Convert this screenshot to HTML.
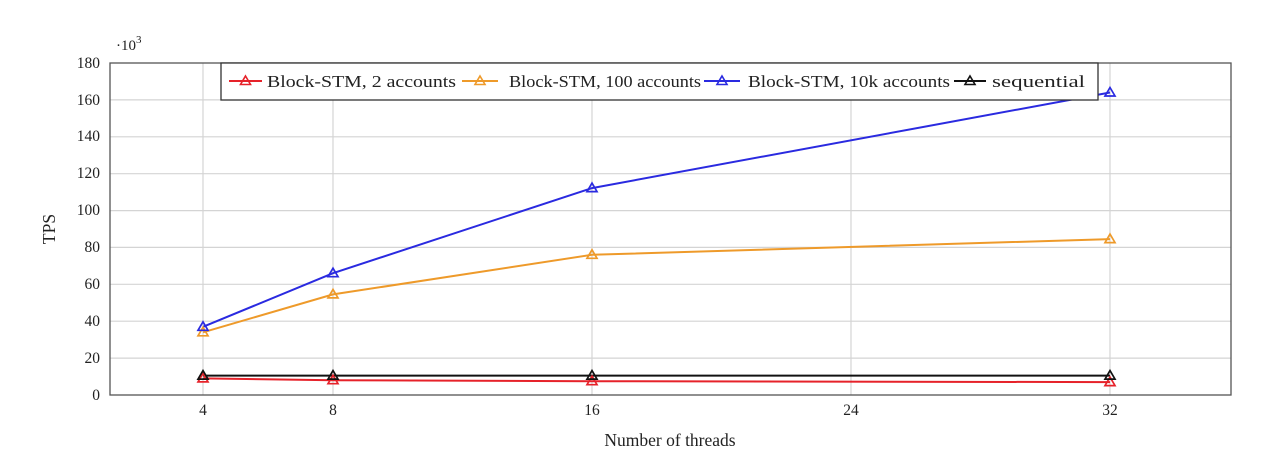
<!DOCTYPE html>
<html><head><style>body{margin:0;background:#fff}svg{display:block}text{font-family:"Liberation Serif",serif;fill:#222}</style></head>
<body>
<svg width="1280" height="470" xmlns="http://www.w3.org/2000/svg">
<defs><clipPath id="c"><rect x="110" y="63" width="1121" height="332"/></clipPath></defs>
<g stroke="#d4d4d4" stroke-width="1.2">
<line x1="203" y1="63" x2="203" y2="395"/><line x1="333" y1="63" x2="333" y2="395"/><line x1="592" y1="63" x2="592" y2="395"/><line x1="851" y1="63" x2="851" y2="395"/><line x1="1110" y1="63" x2="1110" y2="395"/>
<line x1="110" y1="358.1" x2="1231" y2="358.1"/><line x1="110" y1="321.2" x2="1231" y2="321.2"/><line x1="110" y1="284.3" x2="1231" y2="284.3"/><line x1="110" y1="247.4" x2="1231" y2="247.4"/><line x1="110" y1="210.6" x2="1231" y2="210.6"/><line x1="110" y1="173.7" x2="1231" y2="173.7"/><line x1="110" y1="136.8" x2="1231" y2="136.8"/><line x1="110" y1="99.9" x2="1231" y2="99.9"/>
</g>
<g font-size="15.5" text-anchor="end">
<text x="100" y="400">0</text><text x="100" y="363">20</text><text x="100" y="326">40</text><text x="100" y="289">60</text><text x="100" y="252">80</text><text x="100" y="215">100</text><text x="100" y="178">120</text><text x="100" y="141">140</text><text x="100" y="105">160</text><text x="100" y="68">180</text>
</g>
<text x="116" y="50" font-size="15">·10<tspan dy="-7" font-size="11">3</tspan></text>
<g font-size="15.5" text-anchor="middle">
<text x="203" y="415">4</text><text x="333" y="415">8</text><text x="592" y="415">16</text><text x="851" y="415">24</text><text x="1110" y="415">32</text>
</g>
<text x="670" y="446" font-size="17.5" text-anchor="middle">Number of threads</text>
<text x="55" y="229" font-size="17.5" text-anchor="middle" transform="rotate(-90 55 229)">TPS</text>
<g clip-path="url(#c)" fill="none" stroke-width="2">
<polyline stroke="#e6222a" points="203,378.4 333,380.2 592,381.2 1110,382.1"/>
<polyline stroke="#111" points="203,375.6 333,375.6 592,375.6 1110,375.6"/>
<polyline stroke="#ee9a2a" points="203,332.3 333,294.4 592,254.8 1110,239.1"/>
<polyline stroke="#2a2ae0" points="203,326.8 333,273.2 592,188.1 1110,92.5"/>
</g>
<g fill="none" stroke-width="1.7">
<g stroke="#e6222a"><path d="M203,373.4l5,8.5h-10z"/><path d="M333,375.2l5,8.5h-10z"/><path d="M592,376.2l5,8.5h-10z"/><path d="M1110,377.1l5,8.5h-10z"/></g>
<g stroke="#111"><path d="M203,370.6l5,8.5h-10z"/><path d="M333,370.6l5,8.5h-10z"/><path d="M592,370.6l5,8.5h-10z"/><path d="M1110,370.6l5,8.5h-10z"/></g>
<g stroke="#ee9a2a"><path d="M203,327.3l5,8.5h-10z"/><path d="M333,289.4l5,8.5h-10z"/><path d="M592,249.8l5,8.5h-10z"/><path d="M1110,234.1l5,8.5h-10z"/></g>
<g stroke="#2a2ae0"><path d="M203,321.8l5,8.5h-10z"/><path d="M333,268.2l5,8.5h-10z"/><path d="M592,183.1l5,8.5h-10z"/><path d="M1110,87.5l5,8.5h-10z"/></g>
</g>
<rect x="110" y="63" width="1121" height="332" fill="none" stroke="#555" stroke-width="1.3"/>
<rect x="221" y="63" width="877" height="37" fill="#fff" stroke="#333" stroke-width="1.3"/>
<g stroke-width="2" fill="none">
<line x1="229" y1="81" x2="262" y2="81" stroke="#e6222a"/><path d="M245.5,76l5,8.5h-10z" stroke="#e6222a" stroke-width="1.6"/>
<line x1="462" y1="81" x2="498" y2="81" stroke="#ee9a2a"/><path d="M480,76l5,8.5h-10z" stroke="#ee9a2a" stroke-width="1.6"/>
<line x1="704" y1="81" x2="740" y2="81" stroke="#2a2ae0"/><path d="M722,76l5,8.5h-10z" stroke="#2a2ae0" stroke-width="1.6"/>
<line x1="954" y1="81" x2="986" y2="81" stroke="#111"/><path d="M970,76l5,8.5h-10z" stroke="#111" stroke-width="1.6"/>
</g>
<g font-size="17">
<text x="267" y="87" textLength="189" lengthAdjust="spacingAndGlyphs">Block-STM, 2 accounts</text>
<text x="509" y="87" textLength="192" lengthAdjust="spacingAndGlyphs">Block-STM, 100 accounts</text>
<text x="748" y="87" textLength="202" lengthAdjust="spacingAndGlyphs">Block-STM, 10k accounts</text>
<text x="992" y="87" textLength="93" lengthAdjust="spacingAndGlyphs">sequential</text>
</g>
</svg>
</body></html>
